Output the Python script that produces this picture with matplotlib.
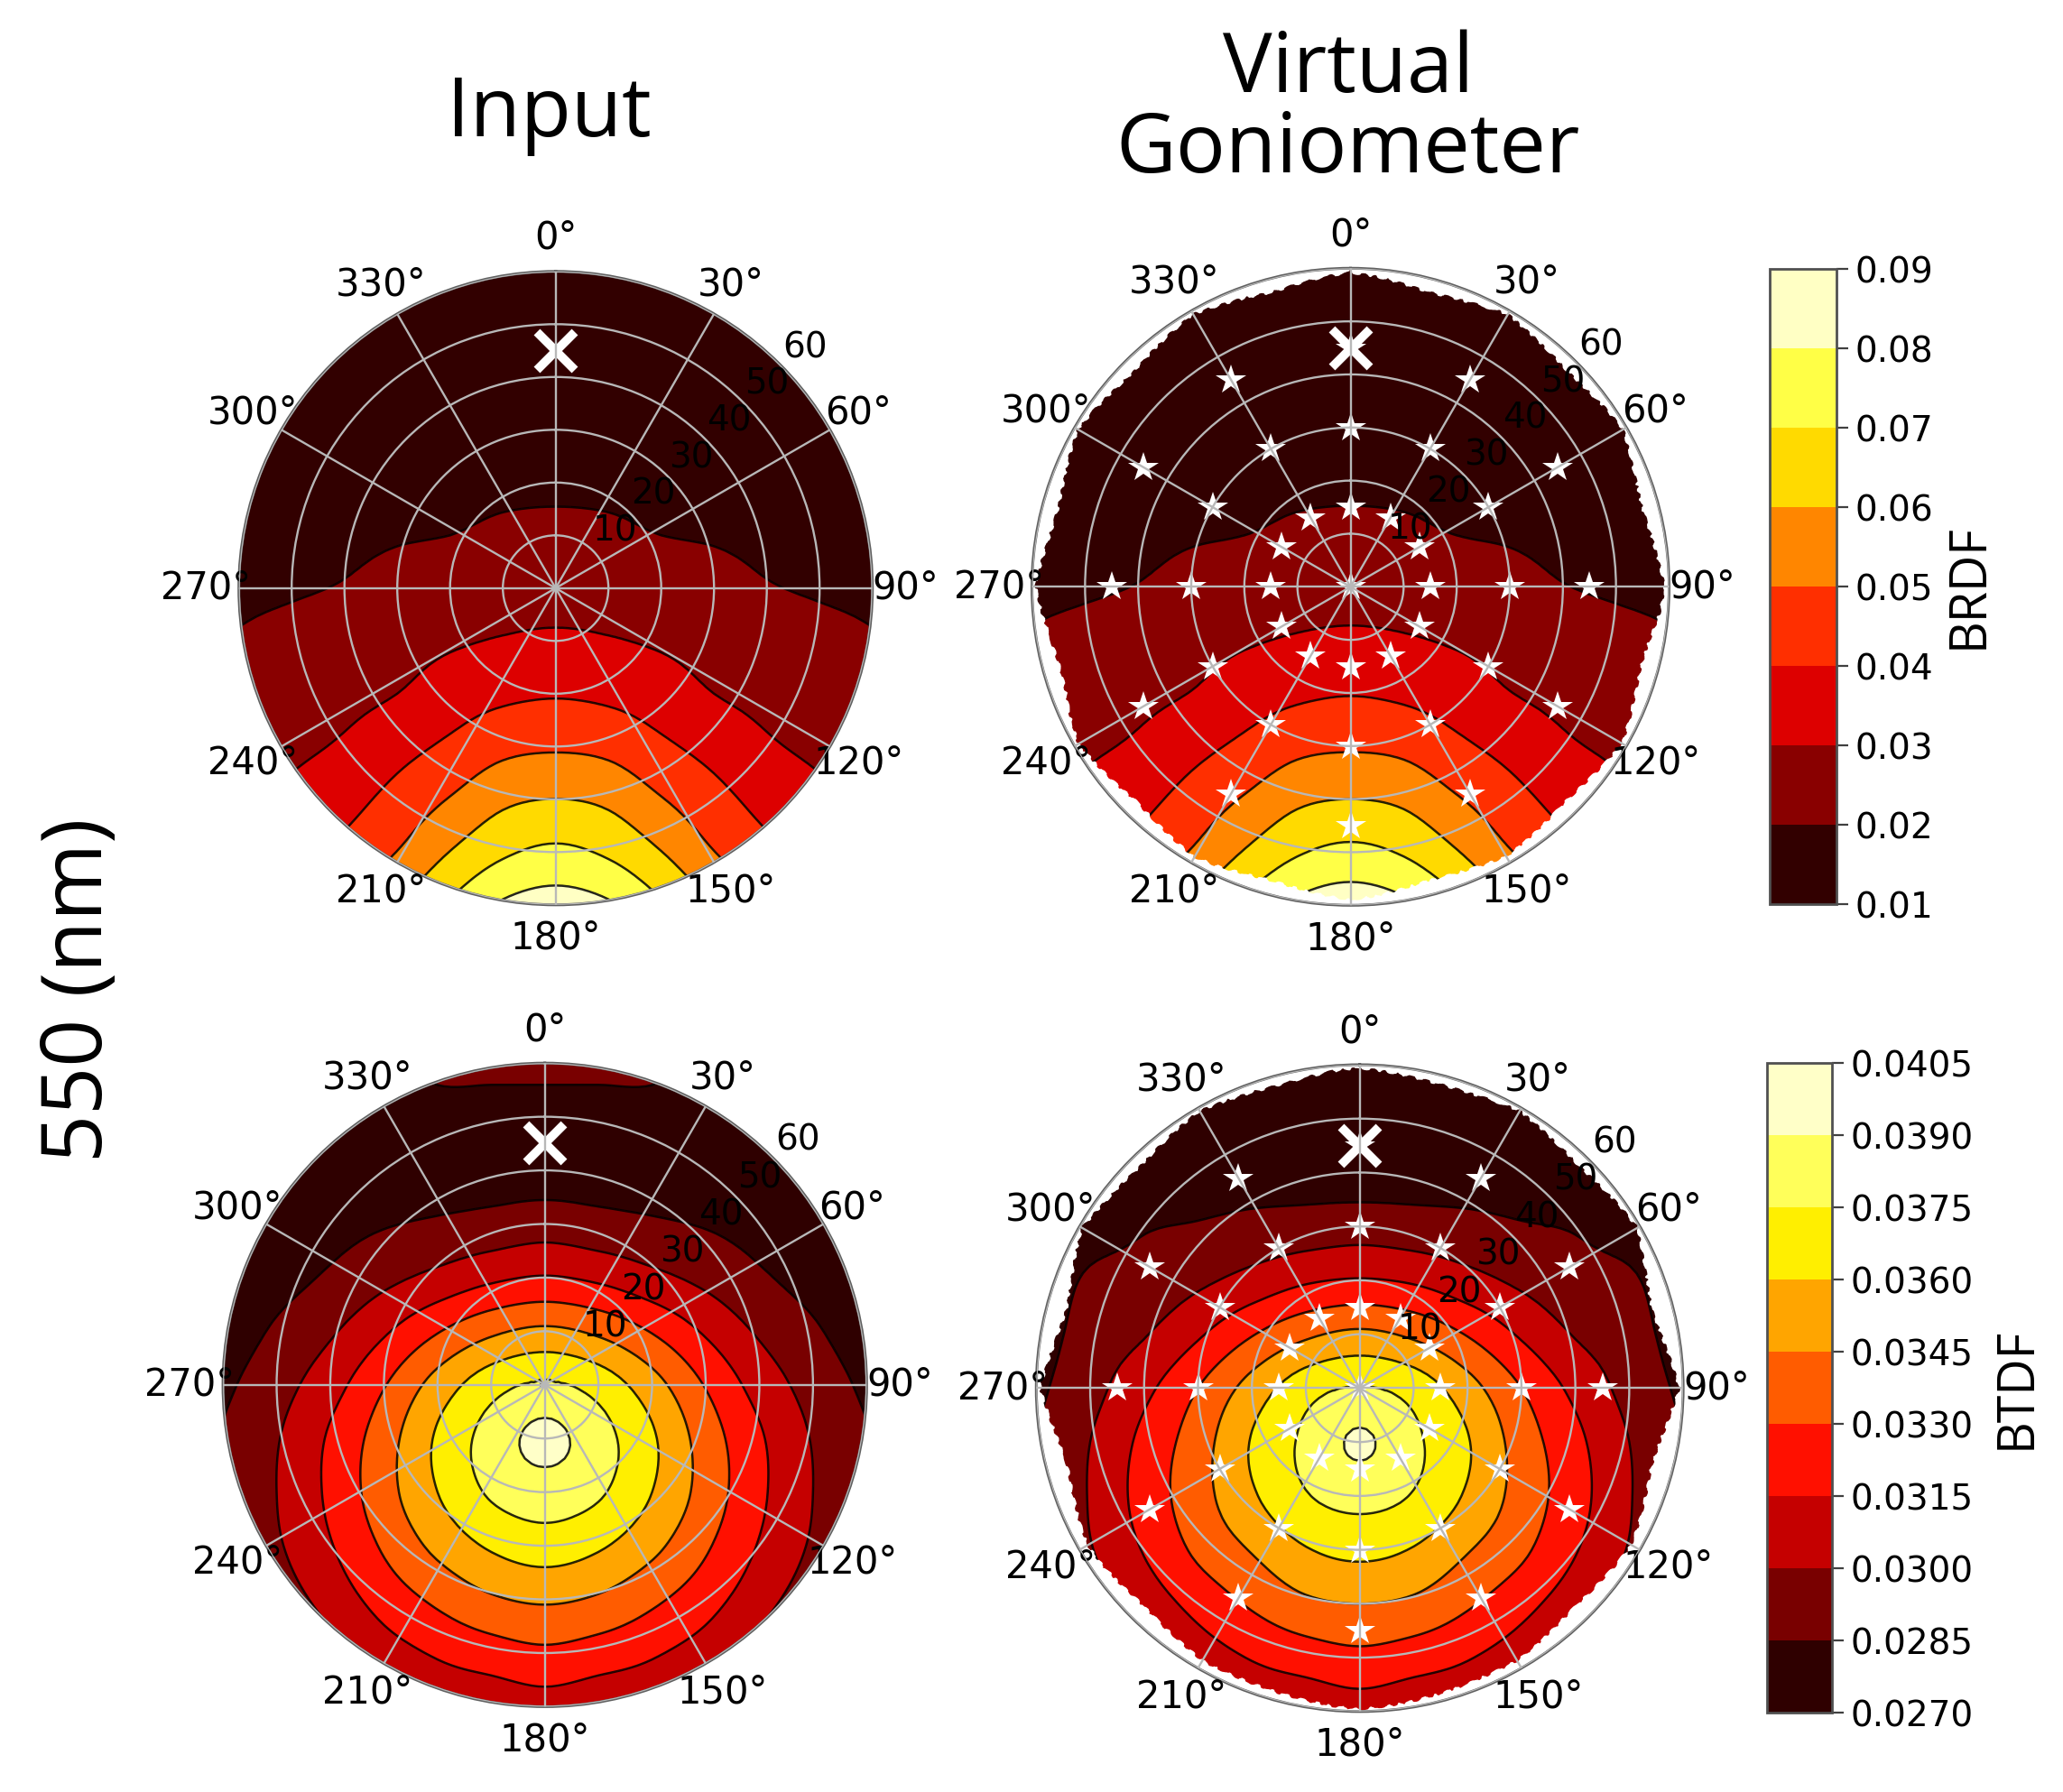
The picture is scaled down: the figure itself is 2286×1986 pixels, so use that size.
"""Input vs virtual goniometer BRDF/BTDF polar maps at 550 nm."""
import numpy as np
import matplotlib
matplotlib.use("Agg")
import matplotlib.pyplot as plt
import matplotlib.tri as mtri

W, H = 2286, 1986
TITLE_FONT = ["Open Sans", "DejaVu Sans"]

# field tables: one row per |x| (zen*sin(az)), one column per y (zen*cos(az))
GRID_X = [0, 10, 20, 30, 40, 50, 60]
GRID_Y = [60, 50, 40, 30, 20, 10, 0, -10, -20, -30, -40, -50, -60]
BRDF_INPUT = [
    [.0130, .0145, .0160, .0175, .0190, .0216, .0263, .0315, .0392, .0488, .0601, .0720, .0847],
    [.0129, .0144, .0159, .0174, .0189, .0212, .0258, .0306, .0379, .0473, .0579, .0684, .0814],
    [.0125, .0140, .0155, .0170, .0185, .0200, .0243, .0288, .0348, .0418, .0505, .0602, .0714],
    [.0120, .0135, .0150, .0165, .0180, .0195, .0224, .0262, .0300, .0366, .0433, .0502, .0600],
    [.0115, .0127, .0142, .0155, .0172, .0187, .0204, .0239, .0273, .0312, .0366, .0424, .0486],
    [.0110, .0120, .0130, .0145, .0160, .0179, .0194, .0220, .0251, .0282, .0320, .0367, .0414],
    [.0105, .0115, .0125, .0135, .0150, .0165, .0188, .0205, .0233, .0261, .0289, .0325, .0367],
]
BRDF_VIRTUAL = [
    [.0130, .0145, .0160, .0175, .0190, .0215, .0261, .0317, .0395, .0488, .0600, .0725, .0860],
    [.0129, .0144, .0159, .0174, .0189, .0211, .0256, .0308, .0381, .0474, .0580, .0690, .0825],
    [.0125, .0140, .0155, .0170, .0185, .0199, .0241, .0289, .0350, .0420, .0508, .0606, .0725],
    [.0120, .0135, .0150, .0165, .0180, .0194, .0222, .0263, .0302, .0368, .0436, .0506, .0610],
    [.0115, .0127, .0142, .0155, .0172, .0186, .0202, .0240, .0275, .0314, .0369, .0428, .0492],
    [.0110, .0120, .0130, .0145, .0160, .0178, .0192, .0221, .0253, .0285, .0323, .0371, .0420],
    [.0105, .0115, .0125, .0135, .0150, .0165, .0186, .0206, .0235, .0264, .0293, .0330, .0372],
]
BTDF_INPUT = [
    [.0292, .0277, .0278, .0293, .0316, .0348, .0377, .0394, .0383, .0368, .0347, .0327, .0308],
    [.0292, .0277, .0278, .0290, .0312, .0342, .0369, .0381, .0377, .0362, .0343, .0323, .0304],
    [.0292, .0277, .0277, .0287, .0304, .0329, .0351, .0362, .0360, .0349, .0333, .0317, .0300],
    [.0276, .0275, .0276, .0284, .0296, .0313, .0329, .0338, .0339, .0332, .0321, .0307, .0285],
    [.0274, .0274, .0275, .0280, .0287, .0298, .0309, .0317, .0318, .0314, .0306, .0294, .0280],
    [.0273, .0273, .0274, .0276, .0280, .0287, .0294, .0299, .0300, .0298, .0291, .0279, .0275],
    [.0272, .0272, .0272, .0273, .0275, .0277, .0282, .0286, .0286, .0283, .0277, .0275, .0272],
]
BTDF_VIRTUAL = [
    [.0279, .0277, .0278, .0293, .0316, .0348, .0376, .0392, .0380, .0364, .0345, .0326, .0307],
    [.0279, .0277, .0279, .0291, .0313, .0342, .0369, .0378, .0374, .0359, .0342, .0322, .0303],
    [.0278, .0277, .0279, .0289, .0305, .0329, .0351, .0361, .0358, .0346, .0332, .0316, .0300],
    [.0276, .0276, .0278, .0286, .0297, .0313, .0330, .0338, .0339, .0333, .0320, .0306, .0288],
    [.0275, .0275, .0276, .0284, .0290, .0299, .0311, .0319, .0321, .0316, .0306, .0294, .0282],
    [.0273, .0273, .0274, .0279, .0287, .0291, .0295, .0300, .0301, .0299, .0291, .0281, .0276],
    [.0271, .0271, .0272, .0273, .0275, .0278, .0282, .0285, .0285, .0283, .0278, .0275, .0272],
]
BRDF_LEVELS = [.01, .02, .03, .04, .05, .06, .07, .08, .09]
BTDF_LEVELS = [.027, .0285, .03, .0315, .033, .0345, .036, .0375, .039, .0405]

# sample coverage edge of the virtual goniometer, every 5 deg azimuth
EDGE_AZ = list(range(0, 365, 5))
EDGE_BRDF = [59.2, 58.6, 57.9, 57.4, 57.8, 58.4, 59.3, 58.5, 58.0, 57.6, 57.9, 58.6,
             59.3, 58.2, 57.3, 56.9, 57.4, 58.2, 59.2, 58.4, 57.2, 56.7, 57.2, 58.1,
             59.1, 58.3, 57.6, 57.2, 57.6, 58.1, 58.7, 58.0, 57.5, 57.2, 57.7, 58.4,
             59.0, 58.3, 57.7, 57.3, 57.6, 58.2, 58.8, 58.1, 57.5, 57.1, 57.7, 58.4,
             59.2, 58.2, 57.1, 56.8, 57.3, 58.3, 59.3, 58.3, 57.4, 57.0, 57.5, 58.4,
             59.3, 58.6, 57.9, 57.5, 58.0, 58.6, 59.3, 58.5, 57.9, 57.4, 57.9, 58.6, 59.2]
EDGE_BTDF = [59.4, 58.9, 58.5, 58.3, 58.4, 58.8, 59.4, 58.7, 58.2, 57.9, 58.3, 58.9,
             59.5, 58.0, 56.8, 56.1, 56.8, 58.0, 59.3, 57.8, 56.6, 56.0, 56.6, 57.4,
             58.2, 57.7, 57.2, 56.9, 57.2, 57.8, 58.4, 58.3, 58.4, 58.6, 58.9, 59.2,
             59.6, 59.2, 58.8, 58.5, 58.3, 58.3, 58.4, 57.7, 57.2, 56.9, 57.3, 57.9,
             58.3, 57.5, 56.7, 56.1, 56.7, 57.9, 59.3, 58.0, 56.9, 56.3, 57.0, 58.2,
             59.5, 58.7, 58.2, 57.9, 58.2, 58.8, 59.4, 58.8, 58.4, 58.2, 58.5, 59.0, 59.4]

STAR_AZ = [0, 30, 60, 90, 120, 150, 180, 210, 240, 270, 300, 330]
STAR_ZEN = [15, 30, 45]
CROSS_AZ, CROSS_ZEN = 0, 45

THETA_TICKS = [0, 30, 60, 90, 120, 150, 180, 210, 240, 270, 300, 330]
R_TICKS = [10, 20, 30, 40, 50, 60]


def px_axes(cx, cy, r, **kw):
    return plt.gcf().add_axes([(cx - r) / W, 1 - (cy + r) / H, 2 * r / W, 2 * r / H], **kw)


def smooth_axis(t, n=8):
    # Catmull-Rom along axis 0, n sub-steps per table step
    u = np.arange((t.shape[0] - 1) * n + 1) / n
    i = np.minimum(u.astype(int), t.shape[0] - 2)
    s = (u - i).reshape((-1,) + (1,) * (t.ndim - 1))
    p0, p1 = t[np.maximum(i - 1, 0)], t[i]
    p2, p3 = t[i + 1], t[np.minimum(i + 2, t.shape[0] - 1)]
    return 0.5 * (2 * p1 + (p2 - p0) * s + (2 * p0 - 5 * p1 + 4 * p2 - p3) * s ** 2
                  + (3 * p1 - p0 - 3 * p2 + p3) * s ** 3)


def refine(table):
    # mirror about x=0 and smooth on the x/y lattice
    t = np.array(table, float)
    t_all = np.vstack([t[::-1][:-1], t])
    x_all = np.r_[-np.array(GRID_X[::-1][:-1], float), GRID_X]
    z = smooth_axis(smooth_axis(t_all).T).T
    xf = smooth_axis(x_all)
    yf = smooth_axis(np.array(GRID_Y, float))
    xx, yy = np.meshgrid(xf, yf, indexing="ij")
    return mtri.Triangulation(xx.ravel(), yy.ravel()), z.ravel()


def half_tri(tr2, side):
    # polar coordinates wrap at az=0, so each half of the disc gets its own triangulation
    x, y = tr2.x, tr2.y
    theta = np.mod(np.arctan2(x, y), 2 * np.pi)
    theta[(np.abs(x) < 1e-9) & (y > 0)] = 0 if side > 0 else 2 * np.pi
    theta[(np.abs(x) < 1e-9) & (y < 0)] = np.pi
    centre = x[tr2.triangles].mean(axis=1)
    return mtri.Triangulation(theta, np.hypot(x, y), tr2.triangles[centre * side > 0])


def panel(cx, cy, r, table, levels, edge=None, stars=False):
    ax = px_axes(cx, cy, r, projection="polar")
    ax.set_theta_zero_location("N")
    ax.set_theta_direction(-1)
    tr2, z2 = refine(table)
    z2 = np.clip(z2, levels[0] + 1e-6, levels[-1] - 1e-6)
    for side in (1, -1):
        tri2 = half_tri(tr2, side)
        cs = ax.tricontourf(tri2, z2, levels=levels, cmap="hot", zorder=1)
        ax.tricontour(tri2, z2, levels=levels[1:-1], colors="k", linewidths=1.8, alpha=0.85, zorder=1.2)
    if edge is not None:
        th = np.radians(EDGE_AZ)
        mask = ax.fill(np.r_[th, th[::-1]], np.r_[edge, [62] * len(th)], color="white", lw=0, zorder=1.8)[0]
        mask.set_sketch_params(scale=1.6, length=26, randomness=6)
    if stars:
        ax.plot(0, 0, "*", color="white", ms=25, mew=0, zorder=2.2)
        for z in STAR_ZEN:
            ax.plot(np.radians(STAR_AZ), [z] * len(STAR_AZ), "*", color="white", ms=25, mew=0, zorder=2.2)
    ax.plot(np.radians(CROSS_AZ), CROSS_ZEN, "x", color="white", ms=30, mew=7, zorder=2.2)
    ax.set_xlim(0, 2 * np.pi)
    ax.set_ylim(0, 60)
    ax.set_axisbelow(False)
    ax.set_thetagrids(THETA_TICKS)
    ax.set_rgrids(R_TICKS, labels=[])
    ax.grid(True, color="#b8b8b8", lw=1.7)
    ax.tick_params(axis="x", labelsize=30, pad=16)
    ax.spines["polar"].set_color("#606060")
    ax.spines["polar"].set_linewidth(2.2)
    for t in R_TICKS:
        ax.text(np.radians(46), t + 5.6, str(t), fontsize=28, ha="center", va="center", zorder=3, clip_on=False)
    return cs


def colorbar(fig, cs, x0, x1, y0, y1, levels, fmt, label, pad):
    cax = fig.add_axes([x0 / W, 1 - y1 / H, (x1 - x0) / W, (y1 - y0) / H])
    cb = fig.colorbar(cs, cax=cax, ticks=levels, format=fmt)
    cb.ax.tick_params(labelsize=28, length=9, width=1.6, color="#404040", pad=6)
    cb.outline.set_edgecolor("#505050")
    cb.outline.set_linewidth(2)
    cb.set_label(label, fontsize=40, family=TITLE_FONT, labelpad=pad)


def main():
    fig = plt.figure(figsize=(W / 100, H / 100), dpi=100)
    cs_top = panel(615.7, 651.8, 351, BRDF_INPUT, BRDF_LEVELS)
    panel(1496.5, 650.3, 353, BRDF_VIRTUAL, BRDF_LEVELS, edge=EDGE_BRDF, stars=True)
    cs_bot = panel(603.7, 1534.8, 356.6, BTDF_INPUT, BTDF_LEVELS)
    panel(1506.7, 1538.4, 358.4, BTDF_VIRTUAL, BTDF_LEVELS, edge=EDGE_BTDF, stars=True)

    colorbar(fig, cs_top, 1961, 2035, 298, 1002, BRDF_LEVELS, "%.2f", "BRDF", 8)
    colorbar(fig, cs_bot, 1958, 2030, 1178, 1898, BTDF_LEVELS, "%.4f", "BTDF", 14)

    fig.text(608 / W, 1 - 127 / H, "Input", fontsize=66, family=TITLE_FONT, ha="center", va="center")
    fig.text(1494 / W, 1 - 123 / H, "Virtual\nGoniometer", fontsize=66, family=TITLE_FONT,
             ha="center", va="center", linespacing=0.96)
    fig.text(89 / W, 1 - 1097 / H, "550 (nm)", fontsize=67, family=TITLE_FONT, rotation=90,
             ha="center", va="center")
    fig.savefig("out.png", dpi=100)


if __name__ == "__main__":
    main()
